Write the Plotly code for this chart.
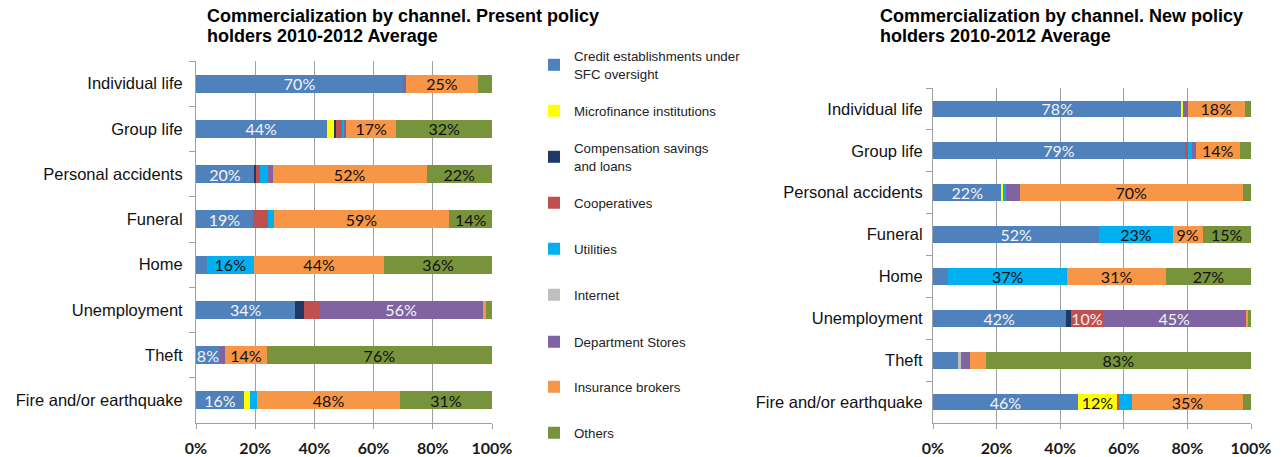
import plotly.graph_objects as go

CATEGORIES = ["Individual life", "Group life", "Personal accidents", "Funeral",
              "Home", "Unemployment", "Theft", "Fire and/or earthquake"]

SERIES = ["Credit establishments under<br>SFC oversight", "Microfinance institutions",
          "Compensation savings<br>and loans", "Cooperatives", "Utilities", "Internet",
          "Department Stores", "Insurance brokers", "Others"]

COLORS = ["#4F81BD", "#FFFF00", "#1F3864", "#C0504D", "#00B0F0", "#BFBFBF",
          "#8064A2", "#F79646", "#77933C"]
TEXT_COLORS = ["#F4F4F4", "#111111", "#F4F4F4", "#F8ECEC", "#111111", "#111111",
               "#F4F4F4", "#111111", "#111111"]

# Present policy holders (percent)
PRESENT_CREDIT = [70.0, 44.1, 19.6, 19.2, 3.6, 33.6, 8.1, 16.2]
PRESENT_MICRO = [0.0, 2.6, 0.0, 0.0, 0.0, 0.0, 0.0, 2.0]
PRESENT_COMP = [0.0, 0.6, 0.7, 0.0, 0.0, 2.8, 0.0, 0.0]
PRESENT_COOP = [0.0, 2.2, 1.3, 5.0, 0.0, 5.1, 0.0, 0.0]
PRESENT_UTIL = [0.0, 0.5, 2.7, 2.0, 16.0, 0.0, 0.0, 2.5]
PRESENT_INTERNET = [0.0, 0.0, 0.0, 0.0, 0.0, 0.0, 0.0, 0.0]
PRESENT_DEPT = [0.8, 0.7, 1.6, 0.0, 0.0, 55.6, 1.8, 0.0]
PRESENT_BROKERS = [24.6, 17.0, 52.0, 59.4, 44.0, 0.9, 14.0, 48.2]
PRESENT_OTHERS = [4.6, 32.3, 22.1, 14.4, 36.4, 2.0, 76.1, 31.1]

# New policy holders (percent)
NEW_CREDIT = [78.2, 79.3, 21.6, 52.3, 4.8, 41.7, 7.8, 45.6]
NEW_MICRO = [0.3, 0.0, 0.4, 0.0, 0.0, 0.0, 0.0, 12.2]
NEW_COMP = [0.0, 0.0, 0.0, 0.0, 0.0, 1.7, 0.0, 0.0]
NEW_COOP = [0.0, 0.9, 0.0, 0.0, 0.0, 10.0, 0.0, 0.8]
NEW_UTIL = [0.0, 1.4, 1.0, 23.1, 37.4, 0.0, 0.0, 4.0]
NEW_INTERNET = [0.0, 0.0, 0.0, 0.0, 0.0, 0.0, 0.9, 0.0]
NEW_DEPT = [1.6, 1.0, 4.2, 0.0, 0.0, 44.9, 2.8, 0.0]
NEW_BROKERS = [18.0, 13.9, 70.3, 9.4, 31.1, 0.9, 5.1, 34.8]
NEW_OTHERS = [1.9, 3.5, 2.5, 15.2, 26.7, 0.8, 83.4, 2.6]

PRESENT = [PRESENT_CREDIT, PRESENT_MICRO, PRESENT_COMP, PRESENT_COOP, PRESENT_UTIL,
           PRESENT_INTERNET, PRESENT_DEPT, PRESENT_BROKERS, PRESENT_OTHERS]
NEW = [NEW_CREDIT, NEW_MICRO, NEW_COMP, NEW_COOP, NEW_UTIL,
       NEW_INTERNET, NEW_DEPT, NEW_BROKERS, NEW_OTHERS]

TITLE_PRESENT = ["Commercialization by channel. Present policy", "holders 2010-2012 Average"]
TITLE_NEW = ["Commercialization by channel. New policy", "holders 2010-2012 Average"]

X_TICKS = [0, 20, 40, 60, 80, 100]
X_TICK_LABELS = ["0%", "20%", "40%", "60%", "80%", "100%"]

LABEL_MIN = 8

W, H = 1283, 457

# legend entry centres (pixels from top)
LEGEND_Y = [65, 111, 157, 203, 249, 295, 342, 387, 433]

fig = go.Figure()

legend_ids = ["legend"] + [f"legend{i}" for i in range(2, len(SERIES) + 1)]

for data, xa, ya, show in [(PRESENT, "x", "y", True), (NEW, "x2", "y2", False)]:
    for i, name in enumerate(SERIES):
        vals = data[i]
        fig.add_trace(go.Bar(
            orientation="h",
            x=vals,
            y=CATEGORIES,
            name=name,
            legendgroup=name,
            legend=legend_ids[i],
            showlegend=show,
            marker=dict(color=COLORS[i], line=dict(width=0)),
            text=[f"{round(v)}%" if v >= LABEL_MIN else "" for v in vals],
            textposition="inside",
            insidetextanchor="middle",
            textangle=0,
            insidetextfont=dict(family="Lato, Carlito, Arial", size=16,
                                color=TEXT_COLORS[i]),
            xaxis=xa, yaxis=ya,
            hovertemplate="%{y}: %{x}%<extra></extra>",
        ))


def px_x(v):
    return v / W


def px_y(v):
    return 1 - v / H


axis_common_x = dict(
    range=[0, 100], tickvals=X_TICKS, ticktext=X_TICK_LABELS,
    showgrid=True, gridcolor="#A0A0A0", gridwidth=1,
    showline=True, linecolor="#A0A0A0", linewidth=1,
    ticks="outside", ticklen=5, tickcolor="#A0A0A0",
    ticklabelstandoff=6,
    tickfont=dict(family="Lato, Carlito, Arial", size=16, color="#1a1a1a", weight="bold"),
    zeroline=False, fixedrange=True, automargin=False,
)
axis_common_y = dict(
    categoryorder="array", categoryarray=CATEGORIES, autorange="reversed",
    showline=True, linecolor="#A0A0A0", linewidth=1,
    ticks="outside", ticklen=6, tickcolor="#A0A0A0", tickson="boundaries",
    tickfont=dict(family="Liberation Sans, Arial", size=16.5, color="#111111"),
    showgrid=False, fixedrange=True, automargin=False,
)

layout = dict(
    width=W, height=H,
    margin=dict(l=0, r=0, t=0, b=0, autoexpand=False),
    paper_bgcolor="white", plot_bgcolor="white",
    barmode="stack", bargap=0.6,
    uniformtext=dict(minsize=15, mode="show"),
    xaxis=dict(domain=[px_x(196), px_x(492)], anchor="y", **axis_common_x),
    yaxis=dict(domain=[px_y(423), px_y(61)], anchor="x", ticklabelstandoff=9,
               **axis_common_y),
    xaxis2=dict(domain=[px_x(933), px_x(1251)], anchor="y2", **axis_common_x),
    yaxis2=dict(domain=[px_y(423), px_y(88)], anchor="x2", ticklabelstandoff=6,
                **axis_common_y),
    showlegend=True,
)

for lid, yc in zip(legend_ids, LEGEND_Y):
    layout[lid] = dict(
        x=px_x(534), y=px_y(yc), xanchor="left", yanchor="middle",
        font=dict(family="Liberation Sans, Arial", size=13.3, color="#222222"),
        bgcolor="rgba(0,0,0,0)", borderwidth=0,
        itemclick=False, itemdoubleclick=False,
    )

fig.update_layout(**layout)

for lines, x0 in [(TITLE_PRESENT, 205), (TITLE_NEW, 878)]:
    for k, line in enumerate(lines):
        fig.add_annotation(
            text=line, xref="paper", yref="paper", x=px_x(x0), y=px_y(15.5 + 20 * k),
            xanchor="left", yanchor="middle", align="left", showarrow=False,
            font=dict(family="Liberation Sans, Arial", size=18, color="#000000",
                      weight="bold"),
        )

fig.write_html("out.html")
